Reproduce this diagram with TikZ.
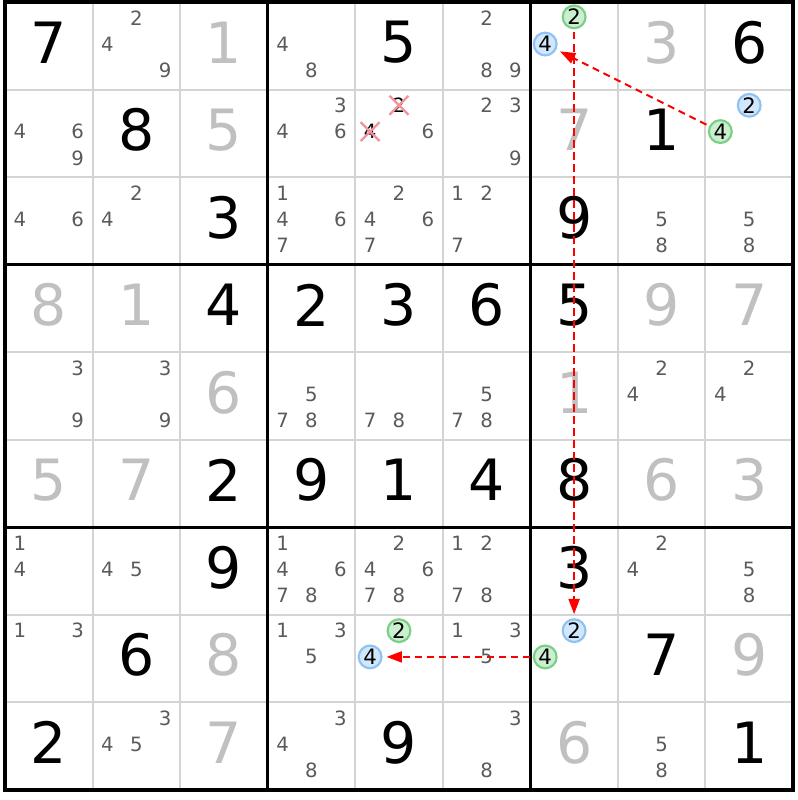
\documentclass[tikz,border=0pt]{standalone}
\usepackage{fontspec}
\setmainfont{DejaVu Sans}
\usetikzlibrary{arrows.meta,shapes.misc}
\definecolor{solvedgray}{HTML}{C0C0C0}
\definecolor{candgray}{HTML}{5A5A5A}
\definecolor{gridgray}{HTML}{D4D4D4}
\definecolor{greenline}{HTML}{7ACF85}
\definecolor{greenfill}{HTML}{CDEFD1}
\definecolor{blueline}{HTML}{8CC2F4}
\definecolor{bluefill}{HTML}{D3E7FC}
\definecolor{crossred}{HTML}{F2939B}
\begin{document}
\begin{tikzpicture}
[givendecorate/.style={font=\fontsize{18.5}{20}\selectfont,text=black,inner sep=0pt},%
  solveddecorate/.style={givendecorate,text=solvedgray},%
  canddecorate/.style={font=\fontsize{6.4}{7}\selectfont,text=candgray,inner sep=0pt},%
  greendecorate/.style={canddecorate,font=\fontsize{6.9}{7}\selectfont,text=black,shape=circle,minimum size=0.26cm,draw=greenline,fill=greenfill,line width=0.7pt},%
  bluedecorate/.style={canddecorate,font=\fontsize{6.9}{7}\selectfont,text=black,shape=circle,minimum size=0.26cm,draw=blueline,fill=bluefill,line width=0.7pt},%
  crossdecorate/.style={canddecorate,text=black,shape=cross out,minimum size=0.19cm,draw=crossred,line width=0.75pt},%
  thinlinedecorate/.style={draw=gridgray,line width=0.65pt},%
  thicklinedecorate/.style={draw=black,line width=1pt},%
  arrowdecorate/.style={-{Triangle[length=5pt,width=3.6pt]},red,dash pattern=on 2.3pt off 1.6pt,line width=0.65pt,shorten <=1pt,shorten >=1.3pt}]
\useasboundingbox (-0.057,-0.114) rectangle (9.057,9.023);
%%% grid
\draw[thinlinedecorate,step=1] (0,0) grid (9,9);
\draw[thicklinedecorate,step=3] (0,0) grid (9,9);
\draw[thicklinedecorate] (0,0) rectangle (9,9);
%
%%% row 1
% digits
\node (r1c1) at (0.5,8.54) [givendecorate] {7};
\node (r1c3) at (2.5,8.54) [solveddecorate] {1};
\node (r1c5) at (4.5,8.54) [givendecorate] {5};
\node (r1c8) at (7.5,8.54) [solveddecorate] {3};
\node (r1c9) at (8.5,8.54) [givendecorate] {6};
% candidates
\node (r1c2d2) at (1.5,8.82) [canddecorate] {2};
\node (r1c2d4) at (1.17,8.52) [canddecorate] {4};
\node (r1c2d9) at (1.83,8.22) [canddecorate] {9};
\node (r1c4d4) at (3.17,8.52) [canddecorate] {4};
\node (r1c4d8) at (3.5,8.22) [canddecorate] {8};
\node (r1c6d2) at (5.5,8.82) [canddecorate] {2};
\node (r1c6d8) at (5.5,8.22) [canddecorate] {8};
\node (r1c6d9) at (5.83,8.22) [canddecorate] {9};
\node (r1c7d2) at (6.5,8.83) [greendecorate] {2};
\node (r1c7d4) at (6.17,8.52) [bluedecorate] {4};
%
%%% row 2
% digits
\node (r2c2) at (1.5,7.54) [givendecorate] {8};
\node (r2c3) at (2.5,7.54) [solveddecorate] {5};
\node (r2c7) at (6.5,7.54) [solveddecorate] {7};
\node (r2c8) at (7.5,7.54) [givendecorate] {1};
% candidates
\node (r2c1d4) at (0.17,7.52) [canddecorate] {4};
\node (r2c1d6) at (0.83,7.52) [canddecorate] {6};
\node (r2c1d9) at (0.83,7.22) [canddecorate] {9};
\node (r2c4d3) at (3.83,7.82) [canddecorate] {3};
\node (r2c4d4) at (3.17,7.52) [canddecorate] {4};
\node (r2c4d6) at (3.83,7.52) [canddecorate] {6};
\node (r2c5d2) at (4.5,7.82) [crossdecorate] {2};
\node (r2c5d4) at (4.17,7.52) [crossdecorate] {4};
\node (r2c5d6) at (4.83,7.52) [canddecorate] {6};
\node (r2c6d2) at (5.5,7.82) [canddecorate] {2};
\node (r2c6d3) at (5.83,7.82) [canddecorate] {3};
\node (r2c6d9) at (5.83,7.22) [canddecorate] {9};
\node (r2c9d2) at (8.5,7.82) [bluedecorate] {2};
\node (r2c9d4) at (8.17,7.52) [greendecorate] {4};
%
%%% row 3
% digits
\node (r3c3) at (2.5,6.54) [givendecorate] {3};
\node (r3c7) at (6.5,6.54) [givendecorate] {9};
% candidates
\node (r3c1d4) at (0.17,6.52) [canddecorate] {4};
\node (r3c1d6) at (0.83,6.52) [canddecorate] {6};
\node (r3c2d2) at (1.5,6.82) [canddecorate] {2};
\node (r3c2d4) at (1.17,6.52) [canddecorate] {4};
\node (r3c4d1) at (3.17,6.82) [canddecorate] {1};
\node (r3c4d4) at (3.17,6.52) [canddecorate] {4};
\node (r3c4d6) at (3.83,6.52) [canddecorate] {6};
\node (r3c4d7) at (3.17,6.22) [canddecorate] {7};
\node (r3c5d2) at (4.5,6.82) [canddecorate] {2};
\node (r3c5d4) at (4.17,6.52) [canddecorate] {4};
\node (r3c5d6) at (4.83,6.52) [canddecorate] {6};
\node (r3c5d7) at (4.17,6.22) [canddecorate] {7};
\node (r3c6d1) at (5.17,6.82) [canddecorate] {1};
\node (r3c6d2) at (5.5,6.82) [canddecorate] {2};
\node (r3c6d7) at (5.17,6.22) [canddecorate] {7};
\node (r3c8d5) at (7.5,6.52) [canddecorate] {5};
\node (r3c8d8) at (7.5,6.22) [canddecorate] {8};
\node (r3c9d5) at (8.5,6.52) [canddecorate] {5};
\node (r3c9d8) at (8.5,6.22) [canddecorate] {8};
%
%%% row 4
\node (r4c1) at (0.5,5.54) [solveddecorate] {8};
\node (r4c2) at (1.5,5.54) [solveddecorate] {1};
\node (r4c3) at (2.5,5.54) [givendecorate] {4};
\node (r4c4) at (3.5,5.54) [givendecorate] {2};
\node (r4c5) at (4.5,5.54) [givendecorate] {3};
\node (r4c6) at (5.5,5.54) [givendecorate] {6};
\node (r4c7) at (6.5,5.54) [givendecorate] {5};
\node (r4c8) at (7.5,5.54) [solveddecorate] {9};
\node (r4c9) at (8.5,5.54) [solveddecorate] {7};
%
%%% row 5
% digits
\node (r5c3) at (2.5,4.54) [solveddecorate] {6};
\node (r5c7) at (6.5,4.54) [solveddecorate] {1};
% candidates
\node (r5c1d3) at (0.83,4.82) [canddecorate] {3};
\node (r5c1d9) at (0.83,4.22) [canddecorate] {9};
\node (r5c2d3) at (1.83,4.82) [canddecorate] {3};
\node (r5c2d9) at (1.83,4.22) [canddecorate] {9};
\node (r5c4d5) at (3.5,4.52) [canddecorate] {5};
\node (r5c4d7) at (3.17,4.22) [canddecorate] {7};
\node (r5c4d8) at (3.5,4.22) [canddecorate] {8};
\node (r5c5d7) at (4.17,4.22) [canddecorate] {7};
\node (r5c5d8) at (4.5,4.22) [canddecorate] {8};
\node (r5c6d5) at (5.5,4.52) [canddecorate] {5};
\node (r5c6d7) at (5.17,4.22) [canddecorate] {7};
\node (r5c6d8) at (5.5,4.22) [canddecorate] {8};
\node (r5c8d2) at (7.5,4.82) [canddecorate] {2};
\node (r5c8d4) at (7.17,4.52) [canddecorate] {4};
\node (r5c9d2) at (8.5,4.82) [canddecorate] {2};
\node (r5c9d4) at (8.17,4.52) [canddecorate] {4};
%
%%% row 6
\node (r6c1) at (0.5,3.54) [solveddecorate] {5};
\node (r6c2) at (1.5,3.54) [solveddecorate] {7};
\node (r6c3) at (2.5,3.54) [givendecorate] {2};
\node (r6c4) at (3.5,3.54) [givendecorate] {9};
\node (r6c5) at (4.5,3.54) [givendecorate] {1};
\node (r6c6) at (5.5,3.54) [givendecorate] {4};
\node (r6c7) at (6.5,3.54) [givendecorate] {8};
\node (r6c8) at (7.5,3.54) [solveddecorate] {6};
\node (r6c9) at (8.5,3.54) [solveddecorate] {3};
%
%%% row 7
% digits
\node (r7c3) at (2.5,2.54) [givendecorate] {9};
\node (r7c7) at (6.5,2.54) [givendecorate] {3};
% candidates
\node (r7c1d1) at (0.17,2.82) [canddecorate] {1};
\node (r7c1d4) at (0.17,2.52) [canddecorate] {4};
\node (r7c2d4) at (1.17,2.52) [canddecorate] {4};
\node (r7c2d5) at (1.5,2.52) [canddecorate] {5};
\node (r7c4d1) at (3.17,2.82) [canddecorate] {1};
\node (r7c4d4) at (3.17,2.52) [canddecorate] {4};
\node (r7c4d6) at (3.83,2.52) [canddecorate] {6};
\node (r7c4d7) at (3.17,2.22) [canddecorate] {7};
\node (r7c4d8) at (3.5,2.22) [canddecorate] {8};
\node (r7c5d2) at (4.5,2.82) [canddecorate] {2};
\node (r7c5d4) at (4.17,2.52) [canddecorate] {4};
\node (r7c5d6) at (4.83,2.52) [canddecorate] {6};
\node (r7c5d7) at (4.17,2.22) [canddecorate] {7};
\node (r7c5d8) at (4.5,2.22) [canddecorate] {8};
\node (r7c6d1) at (5.17,2.82) [canddecorate] {1};
\node (r7c6d2) at (5.5,2.82) [canddecorate] {2};
\node (r7c6d7) at (5.17,2.22) [canddecorate] {7};
\node (r7c6d8) at (5.5,2.22) [canddecorate] {8};
\node (r7c8d2) at (7.5,2.82) [canddecorate] {2};
\node (r7c8d4) at (7.17,2.52) [canddecorate] {4};
\node (r7c9d5) at (8.5,2.52) [canddecorate] {5};
\node (r7c9d8) at (8.5,2.22) [canddecorate] {8};
%
%%% row 8
% digits
\node (r8c2) at (1.5,1.54) [givendecorate] {6};
\node (r8c3) at (2.5,1.54) [solveddecorate] {8};
\node (r8c8) at (7.5,1.54) [givendecorate] {7};
\node (r8c9) at (8.5,1.54) [solveddecorate] {9};
% candidates
\node (r8c1d1) at (0.17,1.82) [canddecorate] {1};
\node (r8c1d3) at (0.83,1.82) [canddecorate] {3};
\node (r8c4d1) at (3.17,1.82) [canddecorate] {1};
\node (r8c4d3) at (3.83,1.82) [canddecorate] {3};
\node (r8c4d5) at (3.5,1.52) [canddecorate] {5};
\node (r8c5d2) at (4.5,1.82) [greendecorate] {2};
\node (r8c5d4) at (4.17,1.52) [bluedecorate] {4};
\node (r8c6d1) at (5.17,1.82) [canddecorate] {1};
\node (r8c6d3) at (5.83,1.82) [canddecorate] {3};
\node (r8c6d5) at (5.5,1.52) [canddecorate] {5};
\node (r8c7d2) at (6.5,1.82) [bluedecorate] {2};
\node (r8c7d4) at (6.17,1.52) [greendecorate] {4};
%
%%% row 9
% digits
\node (r9c1) at (0.5,0.54) [givendecorate] {2};
\node (r9c3) at (2.5,0.54) [solveddecorate] {7};
\node (r9c5) at (4.5,0.54) [givendecorate] {9};
\node (r9c7) at (6.5,0.54) [solveddecorate] {6};
\node (r9c9) at (8.5,0.54) [givendecorate] {1};
% candidates
\node (r9c2d3) at (1.83,0.82) [canddecorate] {3};
\node (r9c2d4) at (1.17,0.52) [canddecorate] {4};
\node (r9c2d5) at (1.5,0.52) [canddecorate] {5};
\node (r9c4d3) at (3.83,0.82) [canddecorate] {3};
\node (r9c4d4) at (3.17,0.52) [canddecorate] {4};
\node (r9c4d8) at (3.5,0.22) [canddecorate] {8};
\node (r9c6d3) at (5.83,0.82) [canddecorate] {3};
\node (r9c6d8) at (5.5,0.22) [canddecorate] {8};
\node (r9c8d5) at (7.5,0.52) [canddecorate] {5};
\node (r9c8d8) at (7.5,0.22) [canddecorate] {8};
%
%%% chain
\path
(r2c9d4) edge[arrowdecorate] (r1c7d4)
(r1c7d2) edge[arrowdecorate] (r8c7d2)
(r8c7d4) edge[arrowdecorate] (r8c5d4);
\end{tikzpicture}
\end{document}
